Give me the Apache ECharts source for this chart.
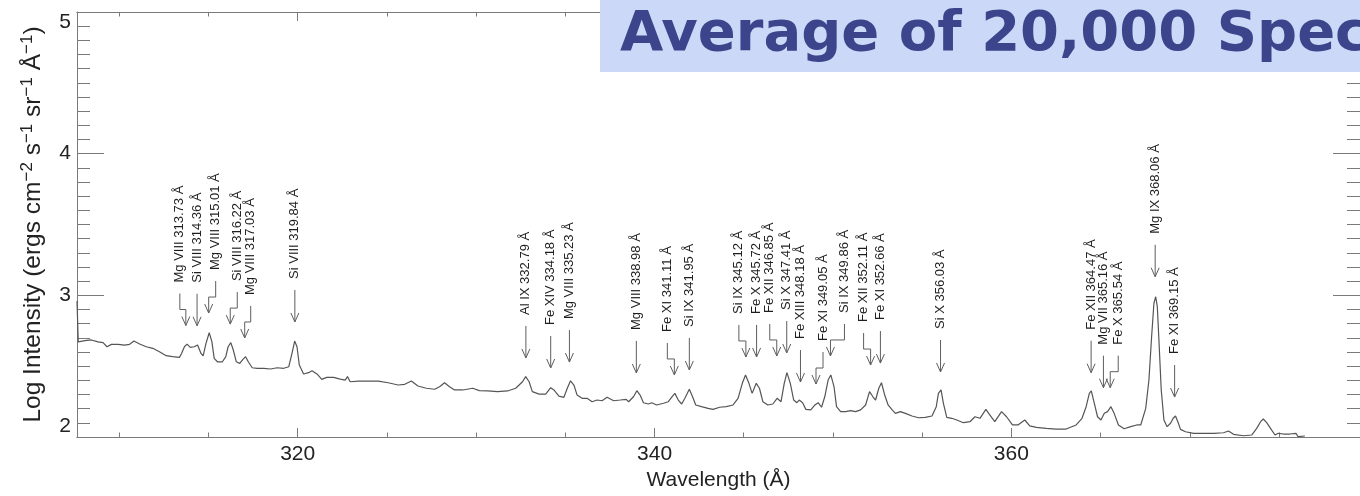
<!DOCTYPE html>
<html>
<head>
<meta charset="utf-8">
<script src="https://cdn.jsdelivr.net/npm/echarts@6/dist/echarts.min.js"></script>
<style>
  html, body { margin: 0; padding: 0; background: #fff; }
  #chart { width: 1360px; height: 496px; }
</style>
</head>
<body>
<div id="chart"></div>
<script>
// Averaged EUV spectrum: wavelength (Å) and log intensity
const wavelength = [
  307.63, 307.70, 308.07, 308.44, 308.81, 309.09, 309.31, 309.56, 309.93, 310.30, 310.58, 310.82, 311.14, 311.51, 311.88, 312.25,
  312.63, 312.99, 313.37, 313.49, 313.65, 313.80, 313.98, 314.20, 314.39, 314.58, 314.70, 314.86, 315.04, 315.19, 315.32, 315.50,
  315.78, 315.97, 316.10, 316.25, 316.39, 316.56, 316.75, 316.93, 317.08, 317.23, 317.45, 317.73, 318.10, 318.48, 318.85, 319.22,
  319.50, 319.68, 319.83, 319.96, 320.09, 320.33, 320.61, 320.80, 321.08, 321.35, 321.63, 322.01, 322.38, 322.66, 322.79, 322.94,
  323.40, 323.96, 324.52, 325.07, 325.63, 326.00, 326.37, 326.74, 327.21, 327.68, 327.95, 328.23, 328.51, 328.79, 329.25, 329.81,
  330.18, 330.65, 331.20, 331.76, 332.22, 332.60, 332.78, 332.97, 333.15, 333.53, 333.90, 334.18, 334.36, 334.64, 334.92, 335.11,
  335.29, 335.48, 335.66, 335.94, 336.22, 336.50, 336.78, 337.06, 337.34, 337.71, 338.08, 338.41,
  338.55, 338.82, 339.01, 339.19, 339.38, 339.66, 339.84, 340.12, 340.50, 340.77, 341.01, 341.14, 341.33, 341.52, 341.70, 341.95,
  342.13, 342.31, 342.63, 343.00, 343.28, 343.65, 344.02, 344.40, 344.68, 344.92, 345.10, 345.29, 345.47, 345.70, 345.88, 346.07,
  346.35, 346.63, 346.87, 347.09, 347.27, 347.42, 347.61, 347.80, 347.98, 348.11, 348.30, 348.48, 348.76, 348.99, 349.17, 349.36,
  349.54, 349.73, 349.88, 350.06, 350.20, 350.43, 350.71, 350.99, 351.27, 351.55, 351.83, 352.05, 352.24, 352.39, 352.57, 352.72,
  352.90, 353.09, 353.32,
  353.50, 353.78, 354.06, 354.43, 354.80, 355.17, 355.55, 355.79, 355.91, 356.06, 356.19, 356.38, 356.66, 356.94, 357.31, 357.68,
  357.96, 358.24, 358.57, 358.80, 359.07, 359.45, 359.73, 360.06, 360.37, 360.75, 361.03, 361.40, 361.96, 362.51, 363.07, 363.63,
  363.96, 364.19, 364.37, 364.48, 364.65, 364.83, 365.02, 365.21, 365.39, 365.58, 365.76, 366.00, 366.32,
  366.69, 367.03, 367.25, 367.53, 367.71, 367.86, 367.99, 368.09, 368.18, 368.27, 368.40, 368.55, 368.73, 368.92, 369.07, 369.20,
  369.33, 369.48, 369.76, 370.22, 370.78, 371.34, 371.89, 372.17, 372.45, 373.01, 373.47, 373.75, 373.97, 374.12, 374.31, 374.59,
  374.78, 374.96, 375.24, 375.61, 375.95, 376.07, 376.45
];
const logIntensity = [
  2.960, 2.672, 2.680, 2.685, 2.672, 2.666, 2.637, 2.654, 2.654, 2.649, 2.654, 2.677, 2.656, 2.637, 2.626, 2.602,
  2.574, 2.567, 2.562, 2.590, 2.637, 2.656, 2.633, 2.637, 2.649, 2.590, 2.572, 2.661, 2.736, 2.673, 2.555, 2.531,
  2.531, 2.567, 2.637, 2.666, 2.614, 2.531, 2.520, 2.548, 2.567, 2.531, 2.489, 2.485, 2.485, 2.480, 2.489, 2.485,
  2.496, 2.590, 2.677, 2.637, 2.508, 2.445, 2.454, 2.468, 2.445, 2.407, 2.421, 2.421, 2.409, 2.402, 2.426, 2.390,
  2.395, 2.395, 2.395, 2.383, 2.367, 2.372, 2.395, 2.360, 2.344, 2.337, 2.355, 2.383, 2.355, 2.332, 2.332, 2.344,
  2.327, 2.325, 2.320, 2.325, 2.344, 2.390, 2.426, 2.390, 2.320, 2.303, 2.303, 2.348, 2.332, 2.289, 2.280, 2.344,
  2.397, 2.367, 2.296, 2.273, 2.273, 2.249, 2.261, 2.256, 2.280, 2.256, 2.261, 2.266,
  2.249, 2.284, 2.327, 2.296, 2.242, 2.233, 2.242, 2.226, 2.238, 2.249, 2.289, 2.308, 2.261, 2.233, 2.273, 2.337,
  2.284, 2.226, 2.214, 2.202, 2.195, 2.210, 2.214, 2.226, 2.273, 2.379, 2.438, 2.379, 2.308, 2.379, 2.344, 2.249,
  2.226, 2.233, 2.273, 2.249, 2.379, 2.454, 2.379, 2.261, 2.242, 2.261, 2.242, 2.195, 2.191, 2.226, 2.242, 2.210,
  2.284, 2.402, 2.438, 2.355, 2.214, 2.179, 2.179, 2.186, 2.179, 2.191, 2.226, 2.320, 2.284, 2.261, 2.344, 2.383,
  2.296, 2.226, 2.191,
  2.167, 2.179, 2.167, 2.148, 2.136, 2.139, 2.148, 2.214, 2.308, 2.332, 2.238, 2.139, 2.132, 2.120, 2.101, 2.108,
  2.143, 2.132, 2.195, 2.155, 2.108, 2.179, 2.143, 2.085, 2.085, 2.120, 2.078, 2.068, 2.061, 2.056, 2.056, 2.085,
  2.132, 2.214, 2.308, 2.325, 2.238, 2.143, 2.120, 2.167, 2.179, 2.214, 2.167, 2.085, 2.058,
  2.073, 2.085, 2.085, 2.202, 2.402, 2.708, 2.944, 2.990, 2.920, 2.685, 2.332, 2.120, 2.073, 2.097, 2.132, 2.148,
  2.108, 2.054, 2.037, 2.026, 2.026, 2.026, 2.030, 2.042, 2.019, 2.009, 2.014, 2.061, 2.108, 2.127, 2.101, 2.049,
  2.014, 2.026, 2.021, 2.021, 2.026, 2.002, 2.007
];

// Identified emission lines
const lineIons = ['Mg VIII', 'Si VIII', 'Mg VIII', 'Si VIII', 'Mg VIII', 'Si VIII', 'Al IX', 'Fe XIV', 'Mg VIII',
  'Mg VIII', 'Fe XI', 'Si IX', 'Si IX', 'Fe X', 'Fe XII', 'Si X', 'Fe XIII', 'Fe XI', 'Si IX', 'Fe XII', 'Fe XI',
  'Si X', 'Fe XII', 'Mg VII', 'Fe X', 'Mg IX', 'Fe XI'];
const lineWavelengths = [313.73, 314.36, 315.01, 316.22, 317.03, 319.84, 332.79, 334.18, 335.23,
  338.98, 341.11, 341.95, 345.12, 345.72, 346.85, 347.41, 348.18, 349.05, 349.86, 352.11, 352.66,
  356.03, 364.47, 365.16, 365.54, 368.06, 369.15];
// log intensity level where each arrow tip sits
const arrowTips = [2.787, 2.785, 2.875, 2.797, 2.699, 2.812, 2.558, 2.487, 2.529,
  2.452, 2.438, 2.473, 2.565, 2.565, 2.572, 2.593, 2.388, 2.374, 2.572, 2.508, 2.522,
  2.459, 2.454, 2.348, 2.348, 3.131, 2.282];

// tick values
const xMajorTicks = [320, 340, 360];
const xMinorTicks = [310, 315, 325, 330, 335, 345, 350, 355, 365, 370, 375];

// layout: sideways shift (px) of a label column relative to its arrow tip
const labelShift = [-6, 0, 7, 7, 6, 0, 0, 0, 0, 0, -7, 0, -7, 0, -7, 0, 0, 7, 14, -7, 0, 0, 0, 0, 8, 0, 0];

const lineLabels = lineIons.map((ion, i) => ion + ' ' + lineWavelengths[i].toFixed(2) + ' Å');
const spectrum = wavelength.map((w, i) => [w, logIntensity[i]]);
const arrows = lineWavelengths.map((w, i) => [w, arrowTips[i]]);

const FONT = '"Liberation Sans", Arial, Helvetica, sans-serif';
const AXIS_COLOR = '#7a7a7a';
const X_MIN = 307.63, X_MAX = 379.54;

function xAxisSpec(position, tickValues, tickLen, withLabels) {
  return {
    type: 'value', position, min: X_MIN, max: X_MAX,
    axisLine: { show: true, onZero: false, lineStyle: { color: AXIS_COLOR, width: 1 } },
    axisTick: { show: true, inside: true, length: tickLen, customValues: tickValues,
      lineStyle: { color: AXIS_COLOR, width: 1 } },
    axisLabel: withLabels
      ? { show: true, customValues: tickValues, fontSize: 21, fontFamily: FONT, color: '#222', margin: 7 }
      : { show: false },
    splitLine: { show: false }
  };
}

function yAxisSpec(position, withLabels) {
  return {
    type: 'value', position, min: 2, max: 5, interval: 1,
    axisLine: { show: true, onZero: false, lineStyle: { color: AXIS_COLOR, width: 1 } },
    axisTick: { show: true, inside: true, length: 27, lineStyle: { color: AXIS_COLOR, width: 1 } },
    minorTick: { show: true, splitNumber: 10, length: 13, lineStyle: { color: AXIS_COLOR, width: 1 } },
    axisLabel: withLabels
      ? { show: true, fontSize: 21, fontFamily: FONT, color: '#222', margin: 6,
          verticalAlignMinLabel: 'bottom', verticalAlignMaxLabel: 'top' }
      : { show: false },
    splitLine: { show: false },
    minorSplitLine: { show: false }
  };
}

function renderLineMarker(params, api) {
  const i = params.dataIndex;
  const tip = api.coord([api.value(0), api.value(1)]);
  const ax = tip[0], ay = tip[1];
  const tx = ax + labelShift[i];
  const stem = labelShift[i] === 0
    ? [[ax, ay - 32], [ax, ay]]
    : [[tx, ay - 32], [tx, ay - 16], [ax, ay - 16], [ax, ay]];
  const stroke = { stroke: '#5e5e5e', lineWidth: 1, fill: null };
  return {
    type: 'group',
    children: [
      { type: 'polyline', shape: { points: stem }, style: stroke },
      { type: 'polyline', shape: { points: [[ax - 4, ay - 9], [ax, ay], [ax + 4, ay - 9]] }, style: stroke },
      {
        type: 'text', x: tx, y: ay - 43, rotation: Math.PI / 2,
        style: {
          text: lineLabels[i], fill: '#1e1e1e', font: '13px ' + FONT,
          align: 'left', verticalAlign: 'middle', textAlign: 'left', textVerticalAlign: 'middle'
        }
      }
    ]
  };
}

const chart = echarts.init(document.getElementById('chart'), null, { renderer: 'canvas' });

const xBottom = xAxisSpec('bottom', xMajorTicks, 9, true);
xBottom.name = 'Wavelength (Å)';
xBottom.nameLocation = 'middle';
xBottom.nameGap = 31;
xBottom.nameTextStyle = { fontSize: 21, fontFamily: FONT, color: '#222' };

const yLeft = yAxisSpec('left', true);
yLeft.name = 'Log Intensity (ergs cm{s|−2} s{s|−1} sr{s|−1} Å{s|−1})';
yLeft.nameLocation = 'middle';
yLeft.nameRotate = 90;
yLeft.nameGap = 27;
yLeft.nameTextStyle = {
  fontSize: 24.5, fontFamily: FONT, color: '#222', lineHeight: 30,
  rich: { s: { fontSize: 17, fontFamily: FONT, color: '#222', verticalAlign: 'top', lineHeight: 30 } }
};

chart.setOption({
  animation: false,
  backgroundColor: '#ffffff',
  grid: { left: 77, top: 12, width: 1290, height: 425, containLabel: false },
  xAxis: [
    xBottom,
    xAxisSpec('bottom', xMinorTicks, 4.5, false),
    xAxisSpec('top', xMajorTicks, 9, false),
    xAxisSpec('top', xMinorTicks, 4.5, false)
  ],
  yAxis: [yLeft, yAxisSpec('right', false)],
  series: [
    {
      type: 'line', xAxisIndex: 0, yAxisIndex: 0, data: spectrum,
      showSymbol: false, smooth: false, silent: true,
      lineStyle: { color: '#555555', width: 1.2 }
    },
    {
      type: 'custom', xAxisIndex: 0, yAxisIndex: 0, data: arrows,
      renderItem: renderLineMarker, clip: false, silent: true, z: 3
    }
  ],
  graphic: [
    { type: 'rect', x: 600, y: 0, shape: { width: 800, height: 72 }, style: { fill: '#cbd8f7' }, z: 100 },
    {
      type: 'text', x: 620, y: 35, z: 101,
      style: {
        text: 'Average of 20,000 Spectra', fill: '#3c448c',
        font: 'bold 56px "DejaVu Sans", Verdana, sans-serif',
        align: 'left', verticalAlign: 'middle', textAlign: 'left', textVerticalAlign: 'middle'
      }
    }
  ]
});
</script>
</body>
</html>
